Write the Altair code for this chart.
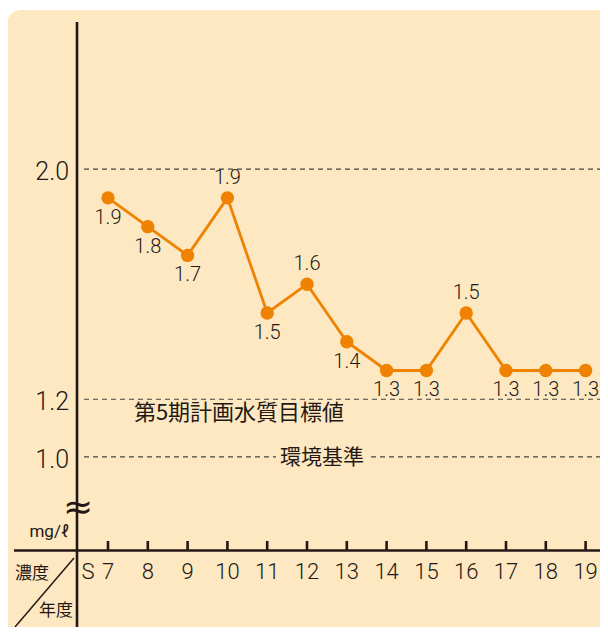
import altair as alt
import pandas as pd

# ---- data ----
years = [7, 8, 9, 10, 11, 12, 13, 14, 15, 16, 17, 18, 19]
values = [1.9, 1.8, 1.7, 1.9, 1.5, 1.6, 1.4, 1.3, 1.3, 1.5, 1.3, 1.3, 1.3]
year_labels = ["7", "8", "9", "10", "11", "12", "13", "14", "15", "16", "17", "18", "19"]
ref_values = [2.0, 1.2, 1.0]
ref_labels = ["2.0", "1.2", "1.0"]
target_label = "第5期計画水質目標値"
standard_label = "環境基準"
unit_label = "mg/ℓ"
era_label = "S"
row_header = "濃度"
col_header = "年度"

# ---- layout (chart pixels; page = chart + 8) ----
W, H = 592, 619
PX_PER_YEAR = 39.8
X0 = 100  # pixel of first year
XMIN = years[0] - X0 / PX_PER_YEAR
XMAX = years[0] + (W - X0) / PX_PER_YEAR
PX_PER_UNIT = 287.7
A = 736.5
YMIN = (A - H) / PX_PER_UNIT
YMAX = A / PX_PER_UNIT

BG = "#FDE8C1"
ORANGE = "#EF8200"
INK = "#231815"
NUM_FONT = "Roboto"
NUM_W = 300
JP_FONT = "Noto Sans CJK JP"

xs = alt.Scale(domain=[XMIN, XMAX], nice=False, zero=False)
ys = alt.Scale(domain=[YMIN, YMAX], nice=False, zero=False)

n = len(values)
pos = []
for i in range(n):
    interior_peak = 0 < i < n - 1 and values[i] > values[i - 1] and values[i] > values[i + 1]
    pos.append("above" if interior_peak else "below")

df = pd.DataFrame({"year": years, "value": values,
                   "label": [f"{v:.1f}" for v in values], "pos": pos,
                   "ylab": year_labels})
ref_df = pd.DataFrame({"v": ref_values, "label": ref_labels})
one = pd.DataFrame({"k": [0]})

bg = alt.Chart(one).mark_rect(fill=BG, cornerRadius=14).encode(
    x=alt.value(-1), x2=alt.value(640), y=alt.value(2), y2=alt.value(640))

DASH = dict(color="#444", strokeDash=[5, 4], strokeWidth=1.2)
dash_full = alt.Chart(ref_df[ref_df.v > 1.1]).mark_rule(**DASH).encode(
    y=alt.Y("v:Q", scale=ys, axis=None), x=alt.value(76), x2=alt.value(W))
std_df = ref_df[ref_df.v < 1.1]
dash_std1 = alt.Chart(std_df).mark_rule(**DASH).encode(
    y=alt.Y("v:Q", scale=ys), x=alt.value(76), x2=alt.value(268))
dash_std2 = alt.Chart(std_df).mark_rule(**DASH).encode(
    y=alt.Y("v:Q", scale=ys), x=alt.value(363), x2=alt.value(W))

ref_text = alt.Chart(ref_df).mark_text(
    font=NUM_FONT, fontWeight=NUM_W, fontSize=25, color=INK, align="right",
    baseline="middle", dy=3).encode(
    y=alt.Y("v:Q", scale=ys), x=alt.value(61), text="label:N")

target_text = alt.Chart(one).mark_text(
    font=JP_FONT, fontSize=22, color=INK, align="center", baseline="middle",
    text=target_label).encode(x=alt.value(231), y=alt.value(405))
std_text = alt.Chart(one).mark_text(
    font=JP_FONT, fontSize=21, color=INK, align="center", baseline="middle",
    text=standard_label).encode(x=alt.value(314), y=alt.value(450))

# axes
yaxis = alt.Chart(one).mark_rule(color=INK, strokeWidth=2.6).encode(
    x=alt.value(69), y=alt.value(14), y2=alt.value(H))
xaxis = alt.Chart(one).mark_rule(color=INK, strokeWidth=2.6).encode(
    y=alt.value(542.5), x=alt.value(6), x2=alt.value(W))
ticks = alt.Chart(df).mark_rule(color=INK, strokeWidth=2.6).encode(
    x=alt.X("year:Q", scale=xs, axis=None), y=alt.value(533), y2=alt.value(543))
diag = alt.Chart(one).mark_rule(color=INK, strokeWidth=1.5).encode(
    x=alt.value(7), y=alt.value(619), x2=alt.value(66), y2=alt.value(550))
wave = alt.Chart(one).mark_text(
    font="DejaVu Sans", fontSize=36, color=INK, align="center", baseline="middle",
    text="≈").encode(x=alt.value(70), y=alt.value(500))

xlabels = alt.Chart(df).mark_text(
    font=NUM_FONT, fontWeight=NUM_W, fontSize=22, color=INK, align="center",
    baseline="middle").encode(
    x=alt.X("year:Q", scale=xs), y=alt.value(564), text="ylab:N")
s_label = alt.Chart(one).mark_text(
    font=NUM_FONT, fontWeight=NUM_W, fontSize=22, color=INK, align="center",
    baseline="middle", text=era_label).encode(x=alt.value(80), y=alt.value(564))
unit = alt.Chart(one).mark_text(
    font=NUM_FONT, fontSize=17, color=INK, align="right", baseline="middle",
    text=unit_label).encode(x=alt.value(61), y=alt.value(524))
rowh = alt.Chart(one).mark_text(
    font=JP_FONT, fontSize=17, color=INK, align="center", baseline="middle",
    text=row_header).encode(x=alt.value(24), y=alt.value(566))
colh = alt.Chart(one).mark_text(
    font=JP_FONT, fontSize=17, color=INK, align="center", baseline="middle",
    text=col_header).encode(x=alt.value(48), y=alt.value(603))

# data
line = alt.Chart(df).mark_line(color=ORANGE, strokeWidth=2.8).encode(
    x=alt.X("year:Q", scale=xs), y=alt.Y("value:Q", scale=ys))
pts = alt.Chart(df).mark_point(filled=True, color=ORANGE, size=180, opacity=1).encode(
    x=alt.X("year:Q", scale=xs), y=alt.Y("value:Q", scale=ys))
LAB = dict(font=NUM_FONT, fontWeight=NUM_W, fontSize=20, color=INK, align="center",
           baseline="middle")
lab_below = alt.Chart(df[df.pos == "below"]).mark_text(dy=20, **LAB).encode(
    x=alt.X("year:Q", scale=xs), y=alt.Y("value:Q", scale=ys), text="label:N")
lab_above = alt.Chart(df[df.pos == "above"]).mark_text(dy=-20, **LAB).encode(
    x=alt.X("year:Q", scale=xs), y=alt.Y("value:Q", scale=ys), text="label:N")

chart = alt.layer(
    bg, dash_full, dash_std1, dash_std2, ref_text, target_text, std_text,
    yaxis, xaxis, ticks, diag, wave, xlabels, s_label, unit, rowh, colh,
    line, pts, lab_below, lab_above
).properties(
    width=W, height=H, padding=0, background="white",
    autosize=alt.AutoSizeParams(type="none")
).configure_view(stroke=None)

chart.save("out.html", embed_options={"renderer": "svg", "actions": False})
